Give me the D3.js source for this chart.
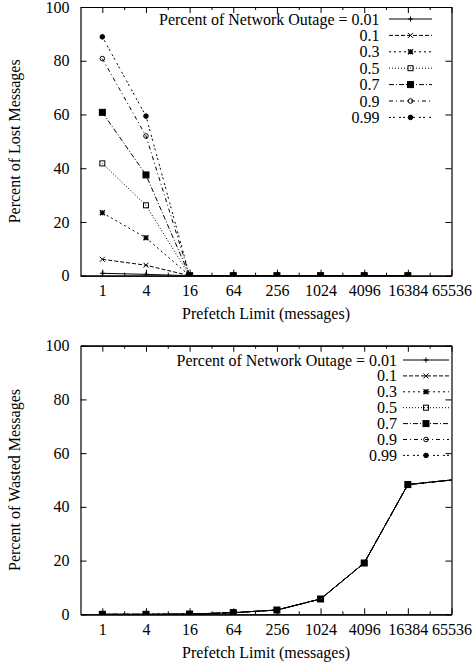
<!DOCTYPE html>
<html><head><meta charset="utf-8">
<script src="https://cdn.jsdelivr.net/npm/d3@7/dist/d3.min.js"></script>
<style>
body{margin:0;background:#fff}
svg text{font-family:"Liberation Serif","Times New Roman",serif;font-size:16px;fill:#000}
</style>
</head><body>
<svg id="chart" width="476" height="666"></svg>
<script>
// ---------- data ----------
const outageLevels = ["0.01","0.1","0.3","0.5","0.7","0.9","0.99"];
const lostPrefetch = [1,4,16,64,256,1024,4096,16384];
const lost001 = [0.9,0.5,0,0,0,0,0,0];
const lost01  = [6.1,3.9,0,0,0,0,0,0];
const lost03  = [23.4,14.1,0,0,0,0,0,0];
const lost05  = [41.8,26.2,0,0,0,0,0,0];
const lost07  = [60.8,37.5,0,0,0,0,0,0];
const lost09  = [80.8,52.0,0,0,0,0,0,0];
const lost099 = [88.9,59.4,0,0,0,0,0,0];
const lostSeries = [lost001,lost01,lost03,lost05,lost07,lost09,lost099];

const wastedPrefetch = [1,4,16,64,256,1024,4096,16384,262144];
// all outage levels coincide in the wasted-messages plot
const wasted001 = [0,0,0.1,0.6,1.6,5.7,19.1,48.3,51.7];
const wasted01  = [0,0,0.1,0.6,1.6,5.7,19.1,48.3,51.7];
const wasted03  = [0,0,0.1,0.6,1.6,5.7,19.1,48.3,51.7];
const wasted05  = [0,0,0.1,0.6,1.6,5.7,19.1,48.3,51.7];
const wasted07  = [0,0,0.1,0.6,1.6,5.7,19.1,48.3,51.7];
const wasted09  = [0,0,0.1,0.6,1.6,5.7,19.1,48.3,51.7];
const wasted099 = [0,0,0.1,0.6,1.6,5.7,19.1,48.3,51.7];
const wastedSeries = [wasted001,wasted01,wasted03,wasted05,wasted07,wasted09,wasted099];

const xTickValues = [1,4,16,64,256,1024,4096,16384,65536];
const xMinorTickValues = [2,8,32,128,512,2048,8192,32768];
const yTickValues = [0,20,40,60,80,100];
const xTitle = "Prefetch Limit (messages)";
const legendTitle = "Percent of Network Outage = ";

// ---------- styles ----------
const dashes = [null,"4,2","2,3","1,2","5,2,1,2","4,3,1,3","2,2,2,4"];
const markers = ["plus","cross","star","squareOpen","square","circleOpen","circle"];

const svg = d3.select("#chart");

function drawMarker(g, type, x, y){
  const s = 2.5;
  const st = {stroke:"#000","stroke-width":1,fill:"none"};
  let el;
  if(type==="plus"){
    el = g.append("path").attr("d",`M${x-s},${y}H${x+s}M${x},${y-s}V${y+s}`);
  } else if(type==="cross"){
    el = g.append("path").attr("d",`M${x-s},${y-s}L${x+s},${y+s}M${x-s},${y+s}L${x+s},${y-s}`);
  } else if(type==="star"){
    el = g.append("path").attr("d",`M${x-s},${y}H${x+s}M${x},${y-s}V${y+s}M${x-s},${y-s}L${x+s},${y+s}M${x-s},${y+s}L${x+s},${y-s}`).attr("stroke-width",1.3);
  } else if(type==="squareOpen"){
    el = g.append("rect").attr("x",x-2.5).attr("y",y-2.5).attr("width",5).attr("height",5);
  } else if(type==="square"){
    el = g.append("rect").attr("x",x-3).attr("y",y-3).attr("width",6).attr("height",6);
    st.fill="#000";
  } else if(type==="circleOpen"){
    el = g.append("circle").attr("cx",x).attr("cy",y).attr("r",2.3);
  } else {
    el = g.append("circle").attr("cx",x).attr("cy",y).attr("r",2.3);
    st.fill="#000";
  }
  for(const k in st){ if(el.attr(k)==null) el.attr(k,st[k]); }
}

function panel(cfg){
  const {top,bottom,left,right,yTitle,xs,series,legendRight,sampleX0,sampleX1,legendY0,legendDy,clipId} = cfg;
  const x = d3.scaleLog().base(4).domain([0.5,65536]).range([left,right]);
  const y = d3.scaleLinear().domain([0,100]).range([bottom,top]);
  const g = svg.append("g");

  // clip
  svg.append("clipPath").attr("id",clipId).append("rect")
    .attr("x",left).attr("y",top).attr("width",right-left).attr("height",bottom-top);

  // axes
  const ax = (sel)=>{sel.selectAll(".domain").attr("stroke","#000").attr("stroke-width",1.2);
    sel.selectAll(".tick line").attr("stroke","#000").attr("stroke-width",1);};
  g.append("g").attr("transform",`translate(0,${bottom})`)
    .call(d3.axisBottom(x).tickValues(xTickValues).tickFormat(d3.format("d")).tickSize(-6).tickSizeOuter(0).tickPadding(9))
    .call(ax).call(s=>s.selectAll("text").style("font-size","16px").style("font-family","Liberation Serif"));
  g.append("g").attr("transform",`translate(0,${top})`)
    .call(d3.axisTop(x).tickValues(xTickValues).tickFormat("").tickSize(-6).tickSizeOuter(0)).call(ax);
  g.append("g").attr("transform",`translate(0,${bottom})`)
    .call(d3.axisBottom(x).tickValues(xMinorTickValues).tickFormat("").tickSize(-3).tickSizeOuter(0)).call(ax);
  g.append("g").attr("transform",`translate(0,${top})`)
    .call(d3.axisTop(x).tickValues(xMinorTickValues).tickFormat("").tickSize(-3).tickSizeOuter(0)).call(ax);
  g.append("g").attr("transform",`translate(${left},0)`)
    .call(d3.axisLeft(y).tickValues(yTickValues).tickSize(-6).tickSizeOuter(0).tickPadding(11))
    .call(ax).call(s=>s.selectAll("text").style("font-size","16px").style("font-family","Liberation Serif"));
  g.append("g").attr("transform",`translate(${right},0)`)
    .call(d3.axisRight(y).tickValues(yTickValues).tickFormat("").tickSize(-6).tickSizeOuter(0)).call(ax);

  // titles
  g.append("text").attr("x",(left+right)/2).attr("y",bottom+43.5).attr("text-anchor","middle").text(xTitle);
  g.append("text").attr("transform",`translate(20,${(top+bottom)/2}) rotate(-90)`).attr("text-anchor","middle").text(yTitle);

  // series
  const line = d3.line().x((d,i)=>x(xs[i])).y(d=>y(d));
  const data = g.append("g").attr("clip-path",`url(#${clipId})`);
  series.forEach((vals,si)=>{
    data.append("path").attr("d",line(vals)).attr("fill","none").attr("stroke","#000")
      .attr("stroke-width",1).attr("stroke-dasharray",dashes[si]);
  });
  series.forEach((vals,si)=>{
    vals.forEach((v,i)=>{ drawMarker(data, markers[si], x(xs[i]), y(v)); });
  });

  // legend
  const lg = g.append("g");
  outageLevels.forEach((lv,i)=>{
    const cy = legendY0 + i*legendDy;
    lg.append("text").attr("x",legendRight).attr("y",cy+5.5).attr("text-anchor","end")
      .text(i===0 ? legendTitle+lv : lv);
    lg.append("line").attr("x1",sampleX0).attr("x2",sampleX1).attr("y1",cy).attr("y2",cy)
      .attr("stroke","#000").attr("stroke-width",1).attr("stroke-dasharray",dashes[i]);
    drawMarker(lg, markers[i], (sampleX0+sampleX1)/2, cy);
  });
}

panel({top:7,bottom:275.7,left:80.5,right:451.5,yTitle:"Percent of Lost Messages",
  xs:lostPrefetch,series:lostSeries,legendRight:379.5,sampleX0:389,sampleX1:432,
  legendY0:19,legendDy:16.4,clipId:"clipTop"});
panel({top:345.7,bottom:614.3,left:80.5,right:451.5,yTitle:"Percent of Wasted Messages",
  xs:wastedPrefetch,series:wastedSeries,legendRight:397,sampleX0:403,sampleX1:449,
  legendY0:360,legendDy:15.9,clipId:"clipBot"});
</script>
</body></html>
